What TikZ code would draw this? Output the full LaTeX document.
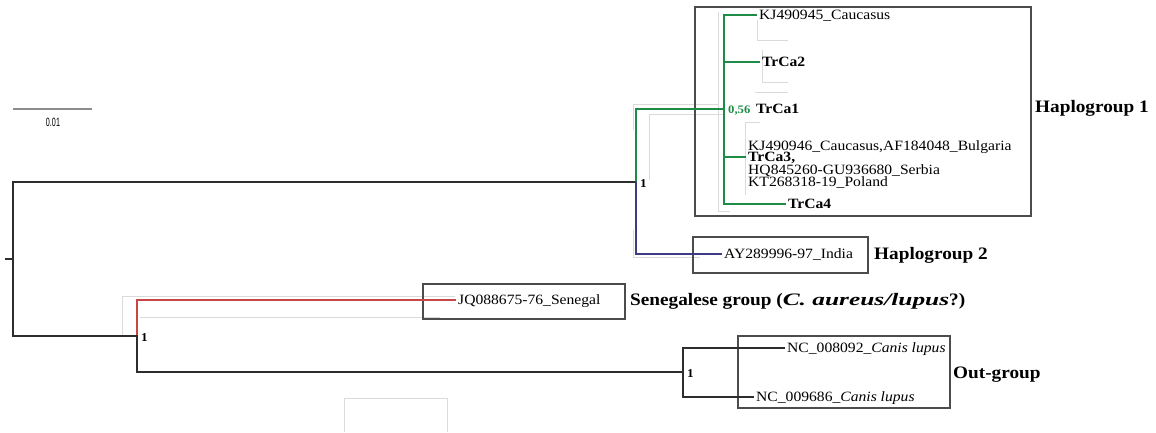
\documentclass[tikz,border=0pt]{standalone}
\usepackage{fontspec}
\setmainfont[FakeStretch=1.1]{Liberation Serif}
\newfontfamily\barfont[FakeStretch=0.6]{Liberation Sans}
\newfontfamily\wideital[FakeStretch=1.45]{Liberation Serif}
\definecolor{cladegreen}{RGB}{30,140,70}
\definecolor{cladeblue}{RGB}{60,60,130}
\definecolor{cladered}{RGB}{200,70,70}
\definecolor{treegray}{RGB}{45,45,45}
\definecolor{ghostgray}{RGB}{218,218,218}
\begin{document}
\begin{tikzpicture}[x=1pt,y=-1pt,
    branch/.style={line width=2pt,color=treegray,line cap=rect},
    green branch/.style={branch,color=cladegreen},
    blue branch/.style={branch,color=cladeblue},
    red branch/.style={branch,color=cladered},
    ghost/.style={line width=1pt,color=ghostgray},
    groupbox/.style={line width=1.2pt,color=treegray!85},
    leaf/.style={anchor=west,inner xsep=3pt,inner ysep=0pt,text height=9pt,text depth=0pt,
      font=\fontsize{14.2}{14}\selectfont},
    boldleaf/.style={leaf,font=\fontsize{14.2}{14}\selectfont\bfseries},
    support/.style={anchor=west,inner sep=0pt,text height=8pt,text depth=0pt,
      font=\fontsize{12}{12}\selectfont\bfseries},
    grouplabel/.style={anchor=west,inner xsep=3pt,inner ysep=0pt,text height=11pt,text depth=0pt,
      font=\fontsize{17.5}{17}\selectfont\bfseries},
  ]
\useasboundingbox (0,0) rectangle (1156,432);

% scale bar
\coordinate (bar0) at (13,109);
\coordinate (bar1) at (92,109);
\draw[line width=2pt,color=black!45] (bar0) -- (bar1);
\node[font=\barfont\fontsize{12}{12}\selectfont,inner sep=0pt] (barlab) at (53,122) {0.01};

% ghost lines
\draw[ghost] (633,130) -- (633,104) -- (718,104);
\draw[ghost] (649,180) -- (649,114) -- (725,114);
\draw[ghost] (718,12) -- (718,211) -- (730,211);
\draw[ghost] (757,20) -- (757,40) -- (788,40);
\draw[ghost] (762,50) -- (762,82) -- (788,82);
\draw[ghost] (755,92) -- (788,92);
\draw[ghost] (760,122) -- (745,122) -- (745,195);
\draw[ghost] (633,230) -- (633,257) -- (700,257);
\draw[ghost] (122,336) -- (122,296) -- (455,296);
\draw[ghost] (140,317) -- (440,317);
\draw[ghost] (344,432) -- (344,398) -- (447,398) -- (447,432);

% group boxes
\draw[groupbox] (695,7) rectangle (1031,216);
\draw[groupbox] (693,237) rectangle (868,273);
\draw[groupbox] (423,284) rectangle (625,319);
\draw[groupbox] (738,336) rectangle (950,408);

% internal nodes
\coordinate (stub) at (6,259);
\coordinate (root) at (13,259);
\coordinate (wolf) at (636,182);
\coordinate (hap1) at (724,109);
\coordinate (afro) at (137,336);
\coordinate (outg) at (683,372);

% leaves
\node[leaf] (kj45) at (756,15) {KJ490945\_Caucasus};
\node[boldleaf] (trca2) at (759,62) {TrCa2};
\node[support,text=cladegreen,font=\fontsize{11.5}{11.5}\selectfont\bfseries] (s056) at (728,109) {0,56};
\node[boldleaf] (trca1) at (753,109) {TrCa1};
\node[leaf] (kj46) at (745,146) {KJ490946\_Caucasus,AF184048\_Bulgaria};
\node[boldleaf] (trca3) at (745,157) {TrCa3,};
\node[leaf] (hq) at (745,170) {HQ845260-GU936680\_Serbia};
\node[leaf] (kt) at (745,182) {KT268318-19\_Poland};
\node[boldleaf] (trca4) at (785,204) {TrCa4};
\node[leaf] (india) at (721,254) {AY289996-97\_India};
\node[leaf] (senegal) at (455,300) {JQ088675-76\_Senegal};
\node[leaf] (nc92) at (784,348) {NC\_008092\_\textit{Canis lupus}};
\node[leaf] (nc86) at (753,397) {NC\_009686\_\textit{Canis lupus}};

% support values
\node[support] (bs1) at (640,183) {1};
\node[support] (bs2) at (141,337) {1};
\node[support] (bs3) at (687,373) {1};

% group labels
\node[grouplabel] (lab1) at (1032,107) {Haplogroup 1};
\node[grouplabel] (lab2) at (871,254) {Haplogroup 2};
\node[grouplabel] (lab3) at (627,300) {Senegalese group ({\wideital\bfseries\itshape C. aureus/lupus}?)};
\node[grouplabel] (lab4) at (950,373) {Out-group};

% branches
\draw[branch] (stub) -- (root);
\draw[branch] (wolf) -| (root) |- (afro);
\draw[green branch] (wolf) |- (hap1);
\draw[blue branch] (wolf) |- (india.west);
\foreach \leafname in {kj45,trca2,trca3,trca4}
  \draw[green branch] (hap1) |- (\leafname.west);
\draw[red branch] (afro) |- (senegal.west);
\draw[branch] (afro) |- (outg);
\draw[branch] (outg) |- (nc92.west);
\draw[branch] (outg) |- (nc86.west);

\end{tikzpicture}
\end{document}
